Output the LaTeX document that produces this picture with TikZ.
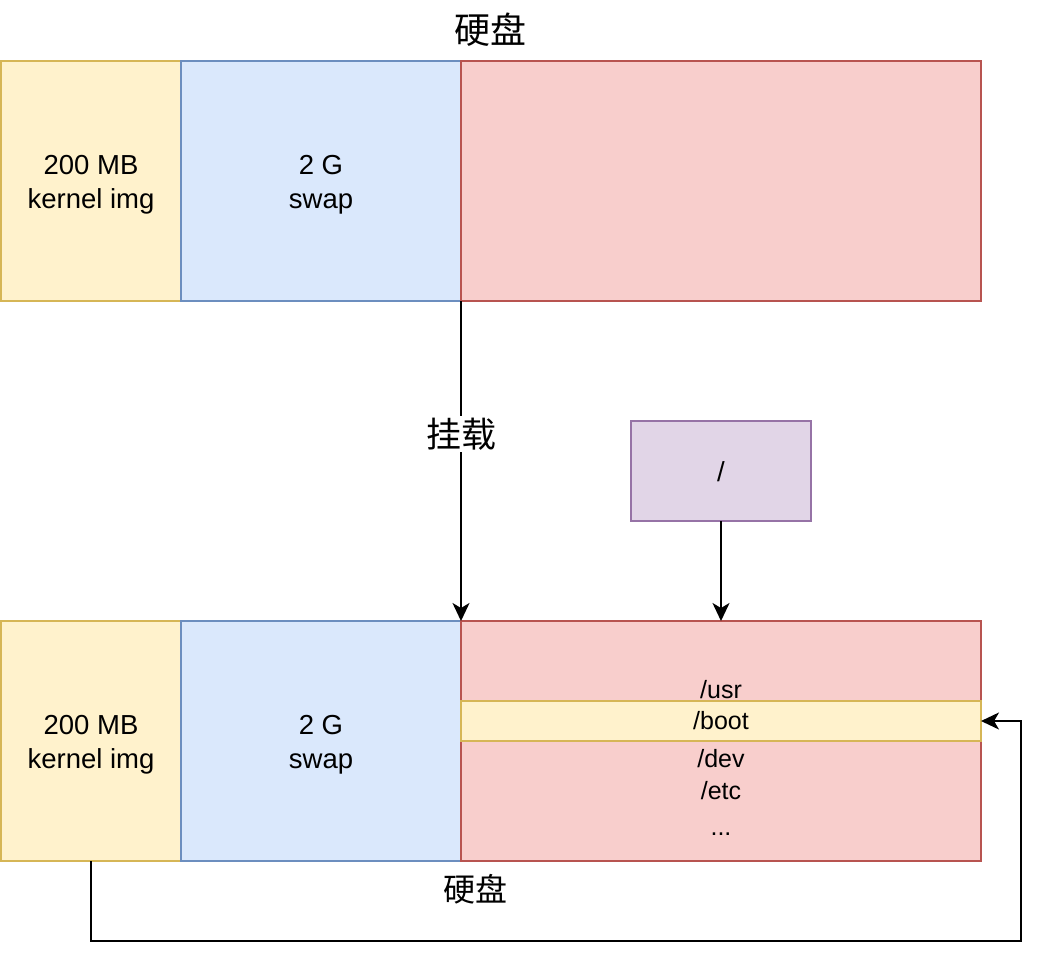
\documentclass[tikz,border=0pt]{standalone}
\usepackage{fontspec}
\setmainfont{Liberation Sans}
\newfontfamily\cjk{Noto Sans CJK SC}
\usetikzlibrary{arrows.meta}
\definecolor{yfill}{HTML}{FFF2CC}\definecolor{ydraw}{HTML}{D6B656}
\definecolor{bfill}{HTML}{DAE8FC}\definecolor{bdraw}{HTML}{6C8EBF}
\definecolor{rfill}{HTML}{F8CECC}\definecolor{rdraw}{HTML}{B85450}
\definecolor{pfill}{HTML}{E1D5E7}\definecolor{pdraw}{HTML}{9673A6}
\tikzset{
  part/.style={rectangle, line width=2pt, inner sep=0pt, outer sep=0pt, anchor=north west},
  ypart/.style={part, fill=yfill, draw=ydraw},
  bpart/.style={part, fill=bfill, draw=bdraw},
  rpart/.style={part, fill=rfill, draw=rdraw},
  ppart/.style={part, fill=pfill, draw=pdraw},
  boxtext/.style={inner sep=0pt, align=center, font=\fontsize{27.5}{34}\selectfont},
  dirtext/.style={anchor=base, inner sep=0pt, font=\fontsize{25}{31}\selectfont},
  cjklabel/.style={inner sep=2pt, font=\cjk\fontsize{33}{40}\selectfont},
  conn/.style={line width=2pt, -{Stealth[length=18pt,width=17pt,inset=5pt]}}
}
\begin{document}
\begin{tikzpicture}[x=1pt,y=-1pt]
\useasboundingbox (0,0) rectangle (1038,958);
% top disk
\node[ypart, minimum width=180pt, minimum height=240pt] (y1) at (1,61) {};
\node[bpart, minimum width=280pt, minimum height=240pt] (b1) at (181,61) {};
\node[rpart, minimum width=520pt, minimum height=240pt] (r1) at (461,61) {};
\node[boxtext] (y1t) at ([yshift=-4pt]y1.center) {200 MB\\kernel img};
\node[boxtext] (b1t) at ([yshift=-4pt]b1.center) {2 G\\swap};
\node[cjklabel, font=\cjk\fontsize{36}{42}\selectfont] (t1) at (490,30) {硬盘};
% bottom disk
\node[ypart, minimum width=180pt, minimum height=240pt] (y2) at (1,621) {};
\node[bpart, minimum width=280pt, minimum height=240pt] (b2) at (181,621) {};
\node[rpart, minimum width=520pt, minimum height=240pt] (r2) at (461,621) {};
\node[boxtext] (y2t) at ([yshift=-4pt]y2.center) {200 MB\\kernel img};
\node[boxtext] (b2t) at ([yshift=-4pt]b2.center) {2 G\\swap};
\node[ypart, minimum width=520pt, minimum height=40pt] (boot) at (461,701) {};
\node[dirtext] (usr) at (721,698) {/usr};
\node[dirtext] (boottxt) at (721,729) {/boot};
\node[dirtext] (dev) at (721,767) {/dev};
\node[dirtext] (etc) at (721,799) {/etc};
\node[dirtext] (more) at (721,835) {...};
\node[cjklabel, font=\cjk\fontsize{32}{38}\selectfont] (t2) at (475,889) {硬盘};
% root
\node[ppart, minimum width=180pt, minimum height=100pt] (root) at (631,421) {};
\node[boxtext] (roott) at ([yshift=-1pt]root.center) {/};
% connectors
\draw[conn] (r1.south west) -- node[pos=0.416, cjklabel, fill=white, font=\cjk\fontsize{35}{40}\selectfont] (mount) {挂载} (r2.north west);
\draw[conn] (root.south) -- (r2.north);
\coordinate (c1) at (1021,941);
\draw[conn] (y2.south) |- (c1) |- (boot.east);
\end{tikzpicture}
\end{document}
